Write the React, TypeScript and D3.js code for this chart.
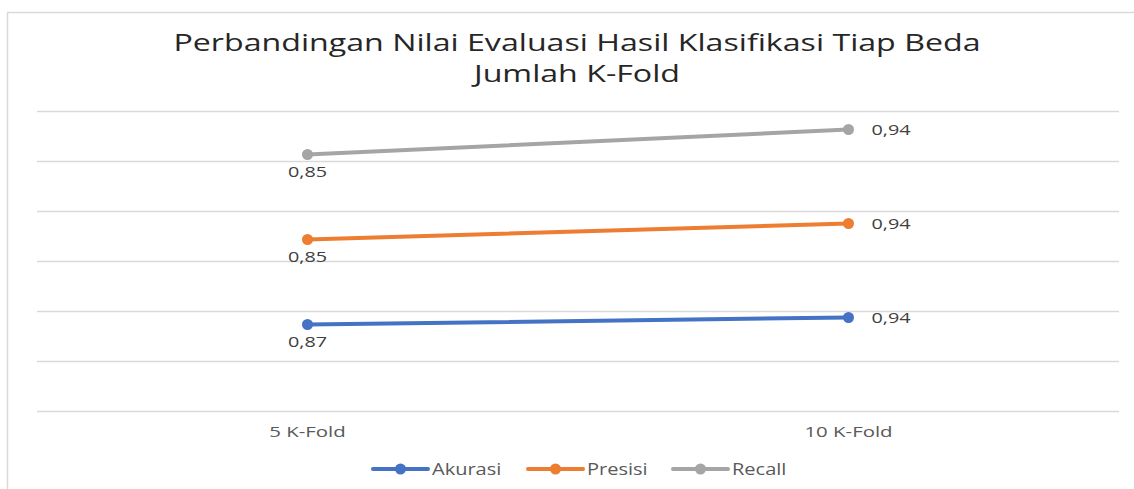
import { useEffect, useRef } from 'react';
import * as d3 from 'd3';

const categories = ['5 K-Fold', '10 K-Fold'];
const seriesNames = ['Akurasi', 'Presisi', 'Recall'];
const akurasi = [0.87, 0.94];
const presisi = [0.85, 0.94];
const recall = [0.85, 0.94];
const seriesColors = ['#4472C4', '#ED7D31', '#A5A5A5'];
const titleLines = ['Perbandingan Nilai Evaluasi Hasil Klasifikasi Tiap Beda', 'Jumlah K-Fold'];
const yTicks = [0, 0.5, 1, 1.5, 2, 2.5, 3];

const W = 1134;
const H = 489;
const FONT = "'Open Sans', 'Noto Sans', sans-serif";
// the source image is stretched sideways, so widen every text a bit
const STRETCH = 1.33;

function widen(sel: any, k = STRETCH) {
  sel.each(function (this: any) {
    const len = this.getComputedTextLength();
    d3.select(this)
      .attr('textLength', len * k)
      .attr('lengthAdjust', 'spacingAndGlyphs');
  });
}

export default function App() {
  const svgRef = useRef<SVGSVGElement>(null);

  useEffect(() => {
    if (!svgRef.current) return;
    const svg = d3.select(svgRef.current);
    svg.selectAll('*').remove();

    const values = [akurasi, presisi, recall];
    // stacked line: cumulative sums
    const stacked = values.map((_, si) =>
      categories.map((_, ci) => d3.sum(values.slice(0, si + 1), v => v[ci]))
    );

    const margin = { left: 37, right: W - 1119, top: 111.5, bottom: H - 411.5 };

    const x = d3.scaleBand<string>()
      .domain(categories)
      .range([margin.left, W - margin.right]);
    const y = d3.scaleLinear()
      .domain([0, 3])
      .range([H - margin.bottom, margin.top]);

    // chart border
    svg.append('rect')
      .attr('x', 7.5).attr('y', 12.5)
      .attr('width', W).attr('height', H)
      .attr('fill', '#fff')
      .attr('stroke', '#D9D9D9')
      .attr('stroke-width', 1.5);

    // title
    const title = svg.append('g');
    titleLines.forEach((t, i) => {
      title.append('text')
        .attr('x', 577)
        .attr('y', 51 + i * 31)
        .attr('text-anchor', 'middle')
        .style('font-family', FONT)
        .style('font-size', '24px')
        .style('fill', '#262626')
        .text(t);
    });
    widen(title.selectAll('text'), 1.34);

    // gridlines
    svg.append('g')
      .selectAll('line')
      .data(yTicks)
      .enter().append('line')
      .attr('x1', margin.left)
      .attr('x2', W - margin.right)
      .attr('y1', d => y(d))
      .attr('y2', d => y(d))
      .attr('stroke', '#D9D9D9')
      .attr('stroke-width', 1.5);

    // category axis labels
    const xAxis = svg.append('g')
      .attr('transform', `translate(0,${y(0)})`)
      .call(d3.axisBottom(x).tickSize(0).tickPadding(15));
    xAxis.select('.domain').remove();
    xAxis.selectAll('text')
      .style('font-family', FONT)
      .style('font-size', '15px')
      .style('fill', '#595959');
    widen(xAxis.selectAll('text'), 1.36);

    const cx = (c: string) => (x(c) || 0) + x.bandwidth() / 2;
    const line = d3.line<number>()
      .x((_, i) => cx(categories[i]))
      .y(d => y(d));

    stacked.forEach((s, si) => {
      const g = svg.append('g');
      g.append('path')
        .datum(s)
        .attr('fill', 'none')
        .attr('stroke', seriesColors[si])
        .attr('stroke-width', 4)
        .attr('stroke-linecap', 'round')
        .attr('d', line);

      g.selectAll('circle')
        .data(s)
        .enter().append('circle')
        .attr('cx', (_, i) => cx(categories[i]))
        .attr('cy', d => y(d))
        .attr('r', 5.5)
        .attr('fill', seriesColors[si]);

      // data labels
      const labels = g.selectAll('text')
        .data(s)
        .enter().append('text')
        .attr('x', (_, i) => i === 0 ? cx(categories[i]) : cx(categories[i]) + 23)
        .attr('y', (d, i) => i === 0 ? y(d) + 22 : y(d) + 5.5)
        .attr('text-anchor', (_, i) => i === 0 ? 'middle' : 'start')
        .style('font-family', FONT)
        .style('font-size', '15px')
        .style('fill', '#404040')
        .text((_, i) => d3.format('.2f')(values[si][i]).replace('.', ','));
      widen(labels, 1.32);
    });

    // legend
    const legendX = [373, 528, 673];
    const legend = svg.append('g').attr('transform', 'translate(0,469)');
    seriesNames.forEach((name, i) => {
      const item = legend.append('g').attr('transform', `translate(${legendX[i]},0)`);
      item.append('line')
        .attr('x1', 0).attr('x2', 55)
        .attr('stroke', seriesColors[i])
        .attr('stroke-width', 4)
        .attr('stroke-linecap', 'round');
      item.append('circle')
        .attr('cx', 27.5)
        .attr('r', 5.5)
        .attr('fill', seriesColors[i]);
      item.append('text')
        .attr('x', 59)
        .attr('y', 6)
        .style('font-family', FONT)
        .style('font-size', '16px')
        .style('fill', '#595959')
        .text(name);
    });
    widen(legend.selectAll('text'), 1.25);
  }, []);

  return (
    <div style={{ position: 'absolute', left: 0, top: 0 }}>
      <svg ref={svgRef} width={W} height={H} style={{ display: 'block', background: '#fff' }} />
    </div>
  );
}
